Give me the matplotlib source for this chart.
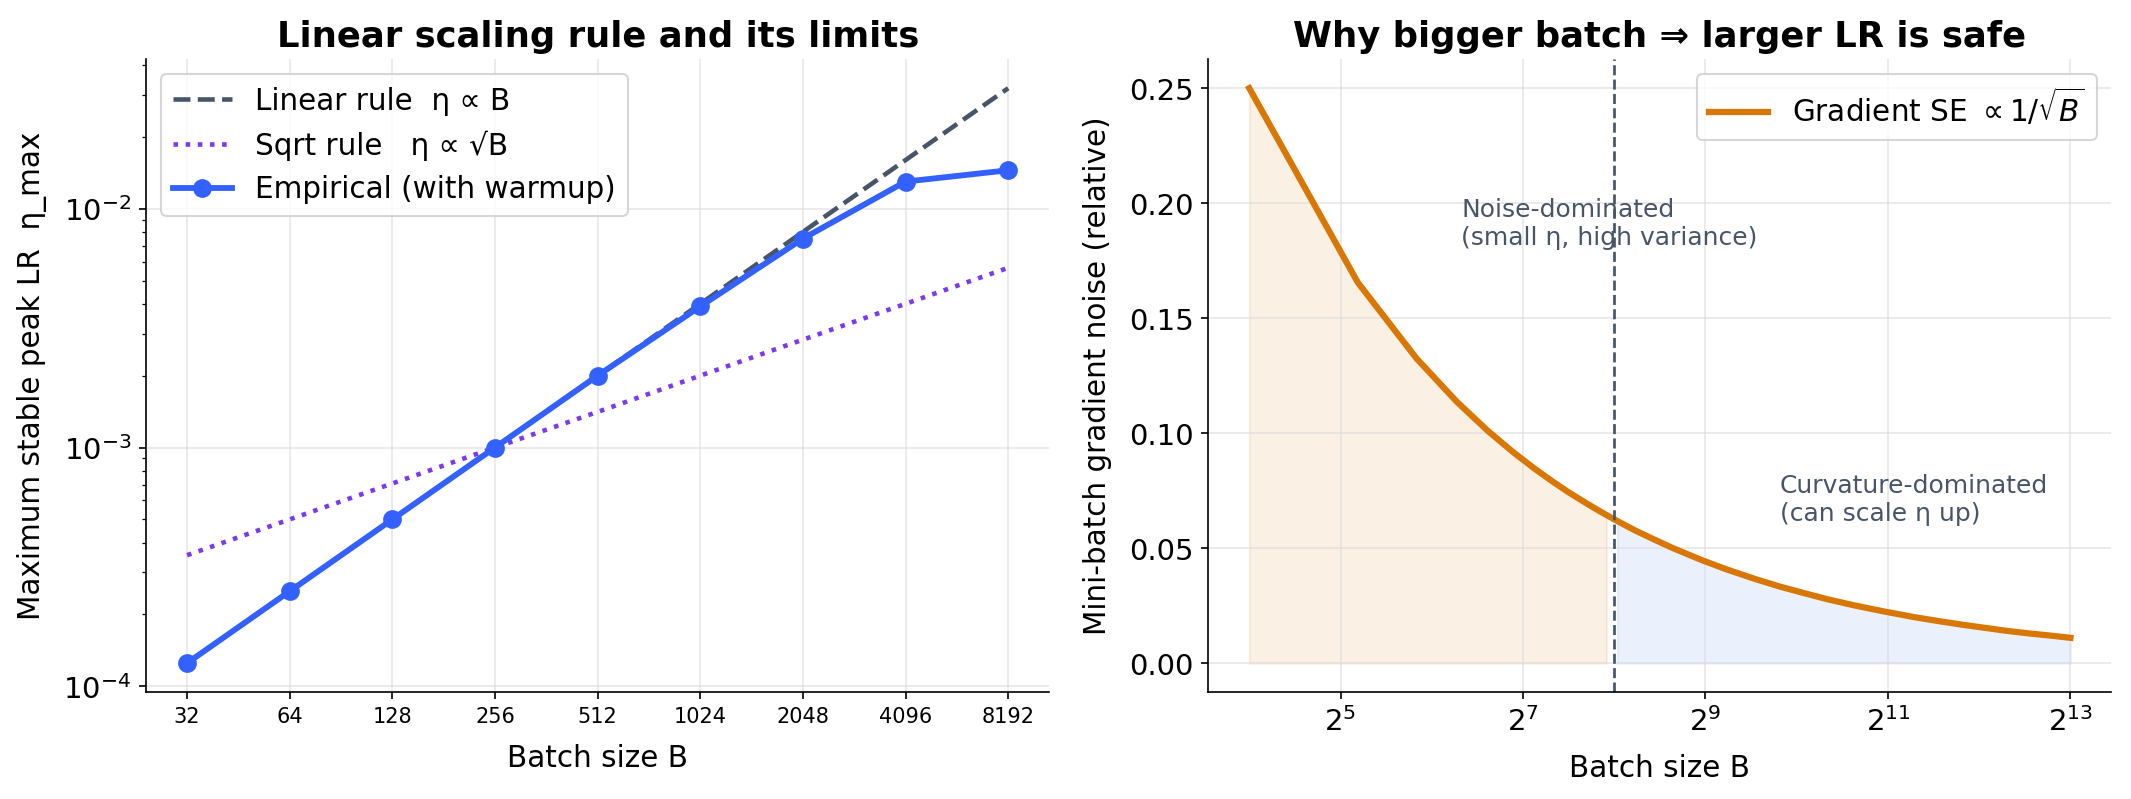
import matplotlib
matplotlib.use("Agg")
import matplotlib.pyplot as plt
import numpy as np

# ---- Left panel data ----
batch_sizes = [32, 64, 128, 256, 512, 1024, 2048, 4096, 8192]
batch_labels = ["32", "64", "128", "256", "512", "1024", "2048", "4096", "8192"]
linear_rule = [1.25e-4, 2.5e-4, 5e-4, 1e-3, 2e-3, 4e-3, 8e-3, 1.6e-2, 3.2e-2]
sqrt_rule = [3.54e-4, 5.0e-4, 7.07e-4, 1e-3, 1.41e-3, 2.0e-3, 2.83e-3, 4.0e-3, 5.66e-3]
empirical = [1.25e-4, 2.5e-4, 5e-4, 1e-3, 2e-3, 3.9e-3, 7.5e-3, 1.3e-2, 1.45e-2]

# ---- Right panel data ----
noise_B = [16, 36.5, 57, 77.5, 98, 118.4, 139, 159.4, 180, 200.3, 221, 241.4,
           262, 300, 350, 400, 500, 600, 750, 900, 1100, 1300, 1600, 2000,
           2500, 3000, 3600, 4300, 5000, 6000, 7000, 8192]
noise_se = [0.25, 0.1655, 0.1325, 0.1136, 0.1010, 0.0919, 0.0848, 0.0792,
            0.0745, 0.0707, 0.0673, 0.0644, 0.0618, 0.0577, 0.0535, 0.0500,
            0.0447, 0.0408, 0.0365, 0.0333, 0.0302, 0.0277, 0.0250, 0.0224,
            0.0200, 0.0183, 0.0167, 0.0153, 0.0141, 0.0129, 0.0120, 0.0110]
split_B = 256
right_xticks = [32, 128, 512, 2048, 8192]

C_LIN = "#475569"
C_SQRT = "#7c3aed"
C_EMP = "#3361ff"
C_ORANGE = "#d97706"
C_BLUE = "#2563eb"

LBL = 14.2

fig, (ax1, ax2) = plt.subplots(1, 2, figsize=(14.21, 5.33), dpi=150)
fig.subplots_adjust(left=0.0685, right=0.9906, bottom=0.134, top=0.925, wspace=0.176)

# Left
ax1.plot(batch_sizes, linear_rule, ls="--", color=C_LIN, lw=2.2, label="Linear rule  η ∝ B")
ax1.plot(batch_sizes, sqrt_rule, ls=":", color=C_SQRT, lw=2.2, label="Sqrt rule   η ∝ √B")
ax1.plot(batch_sizes, empirical, "-o", color=C_EMP, lw=2.8, ms=8, label="Empirical (with warmup)")
ax1.set_xscale("log", base=2)
ax1.set_yscale("log")
ax1.set_xticks(batch_sizes)
ax1.set_xticklabels(batch_labels, fontsize=10)
ax1.tick_params(axis="y", labelsize=14)
ax1.set_xlabel("Batch size B", fontsize=LBL, labelpad=8)
ax1.set_ylabel("Maximum stable peak LR  η_max", fontsize=LBL, labelpad=8)
ax1.set_title("Linear scaling rule and its limits", fontsize=17, fontweight="bold")
ax1.grid(True, which="major", color="#dddddd", alpha=0.7, lw=0.8)
ax1.legend(loc="upper left", fontsize=LBL)
for s in ("top", "right"):
    ax1.spines[s].set_visible(False)

# Right
B = np.array(noise_B)
se = np.array(noise_se)
ax2.plot(B, se, color=C_ORANGE, lw=3, label=r"Gradient SE $\propto 1/\sqrt{B}$")
ax2.fill_between(B, 0, se, where=B <= split_B, color=C_ORANGE, alpha=0.11)
ax2.fill_between(B, 0, se, where=B >= split_B, color=C_BLUE, alpha=0.09)
ax2.axvline(split_B, color=C_LIN, ls="--", lw=1.3)
ax2.set_xscale("log", base=2)
ax2.set_xticks(right_xticks)
ax2.tick_params(axis="both", labelsize=14)
ax2.text(80, 0.18, "Noise-dominated\n(small η, high variance)", color=C_LIN, fontsize=12,
         ha="left", va="bottom")
ax2.text(900, 0.06, "Curvature-dominated\n(can scale η up)", color=C_LIN, fontsize=12,
         ha="left", va="bottom")
ax2.set_xlabel("Batch size B", fontsize=LBL, labelpad=8)
ax2.set_ylabel("Mini-batch gradient noise (relative)", fontsize=LBL, labelpad=8)
ax2.set_title("Why bigger batch ⇒ larger LR is safe", fontsize=17, fontweight="bold")
ax2.grid(True, which="major", color="#dddddd", alpha=0.7, lw=0.8)
ax2.legend(loc="upper right", fontsize=LBL)
for s in ("top", "right"):
    ax2.spines[s].set_visible(False)

fig.savefig("out.png", dpi=150)
